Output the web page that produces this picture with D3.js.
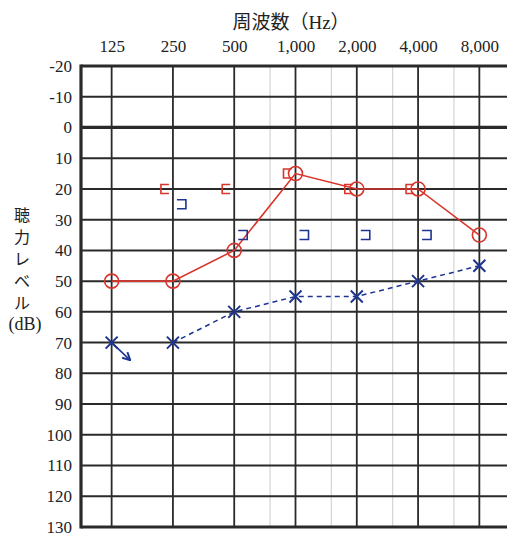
<!DOCTYPE html>
<html><head><meta charset="utf-8">
<script src="https://cdn.jsdelivr.net/npm/d3@7"></script>
<style>body{margin:0;background:#fff}svg{display:block}
.sf{font-family:"Liberation Serif","Times New Roman","DejaVu Serif","Noto Sans CJK JP",serif}</style>
</head><body>
<svg id="c" width="507" height="536"></svg>
<script>
const freqs = [125, 250, 500, 1000, 2000, 4000, 8000];
const freqLabels = ["125", "250", "500", "1,000", "2,000", "4,000", "8,000"];
const halfOctaves = [750, 1500, 3000, 6000];
const dbTicks = [-20, -10, 0, 10, 20, 30, 40, 50, 60, 70, 80, 90, 100, 110, 120, 130];
const rightAir = [50, 50, 40, 15, 20, 20, 35];
const leftAirFreqs = [250, 500, 1000, 2000, 4000, 8000];
const leftAir = [70, 60, 55, 55, 50, 45];
const rightBoneFreqs = [250, 500, 1000, 2000, 4000];
const rightBone = [20, 20, 15, 20, 20];
const leftBoneFreqs = [250, 500, 1000, 2000, 4000];
const leftBone = [25, 35, 35, 35, 35];
const noRespFreqs = [125];
const noResp = [70];
const yLabelChars = ["聴", "力", "レ", "ベ", "ル"];

const RED = "#d8352c", BLUE = "#1d3590", GRID = "#2a2a2a";
const svg = d3.select("#c");
const x = d3.scaleLog().base(2).domain([125 / Math.SQRT2, 8000 * Math.SQRT2]).range([81, 510]);
const y = d3.scaleLinear().domain([-20, 130]).range([66, 527]);

svg.append("g").selectAll("line").data(halfOctaves).join("line")
  .attr("x1", d => x(d)).attr("x2", d => x(d)).attr("y1", y(-20)).attr("y2", y(130))
  .attr("stroke", "#d4d4d4").attr("stroke-width", 1.2);
svg.append("g").selectAll("line").data(freqs).join("line")
  .attr("x1", d => x(d)).attr("x2", d => x(d)).attr("y1", y(-20)).attr("y2", y(130))
  .attr("stroke", GRID).attr("stroke-width", 1.8);
svg.append("g").selectAll("line").data(dbTicks).join("line")
  .attr("x1", 81).attr("x2", 507).attr("y1", d => y(d)).attr("y2", d => y(d))
  .attr("stroke", GRID).attr("stroke-width", d => (d === -20 || d === 0 || d === 130) ? 3.2 : 2);
svg.append("line").attr("x1", 81).attr("x2", 81).attr("y1", y(-20) - 1.5).attr("y2", y(130) + 1.5)
  .attr("stroke", GRID).attr("stroke-width", 3.2);

const yAxis = svg.append("g").attr("transform", "translate(72,0)")
  .call(d3.axisLeft(y).tickValues(dbTicks).tickFormat(d => String(d)).tickSize(0).tickPadding(0));
yAxis.select(".domain").remove();
yAxis.attr("font-family", null).attr("font-size", null);
yAxis.selectAll("text").attr("class", "sf").attr("font-size", 17).attr("fill", "#222");

const xAxis = svg.append("g").attr("transform", "translate(0,52)")
  .call(d3.axisTop(x).tickValues(freqs).tickFormat((d, i) => freqLabels[i]).tickSize(0).tickPadding(0));
xAxis.select(".domain").remove();
xAxis.attr("font-family", null).attr("font-size", null);
xAxis.selectAll("text").attr("class", "sf").attr("font-size", 17).attr("fill", "#222");

svg.append("text").attr("class", "sf").attr("x", 291).attr("y", 29).attr("text-anchor", "middle")
  .attr("font-size", 19).attr("fill", "#222").text("周波数（Hz）");

const yl = svg.append("g").attr("fill", "#222").attr("text-anchor", "middle");
yl.selectAll("text.c").data(yLabelChars).join("text").attr("class", "sf")
  .attr("x", 22).attr("y", (d, i) => 221 + i * 22).attr("font-size", 16).text(d => d);
yl.append("text").attr("class", "sf").attr("x", 25).attr("y", 330).attr("font-size", 18).text("(dB)");

const rIdx = freqs.map((f, i) => i);
svg.append("path").datum(rIdx)
  .attr("d", d3.line().x(i => x(freqs[i])).y(i => y(rightAir[i])))
  .attr("fill", "none").attr("stroke", RED).attr("stroke-width", 1.6);
svg.append("g").selectAll("circle").data(rIdx).join("circle")
  .attr("cx", i => x(freqs[i])).attr("cy", i => y(rightAir[i])).attr("r", 7)
  .attr("fill", "none").attr("stroke", RED).attr("stroke-width", 1.6);

svg.append("g").selectAll("path").data(rightBoneFreqs).join("path")
  .attr("d", (f, i) => {
    const cx = x(f), cy = y(rightBone[i]);
    return `M${cx - 4},${cy - 4.5}H${cx - 12}V${cy + 4.5}H${cx - 4}`;
  })
  .attr("fill", "none").attr("stroke", RED).attr("stroke-width", 1.6);

svg.append("g").selectAll("path").data(leftBoneFreqs).join("path")
  .attr("d", (f, i) => {
    const cx = x(f), cy = y(leftBone[i]);
    return `M${cx + 4},${cy - 4.5}H${cx + 13}V${cy + 4.5}H${cx + 4}`;
  })
  .attr("fill", "none").attr("stroke", BLUE).attr("stroke-width", 1.6);

const lIdx = leftAirFreqs.map((f, i) => i);
svg.append("path").datum(lIdx)
  .attr("d", d3.line().x(i => x(leftAirFreqs[i])).y(i => y(leftAir[i])))
  .attr("fill", "none").attr("stroke", BLUE).attr("stroke-width", 1.5).attr("stroke-dasharray", "5,4");
const xMark = (cx, cy, s) => `M${cx - s},${cy - s}L${cx + s},${cy + s}M${cx - s},${cy + s}L${cx + s},${cy - s}`;
svg.append("g").selectAll("path").data(lIdx).join("path")
  .attr("d", i => xMark(x(leftAirFreqs[i]), y(leftAir[i]), 6))
  .attr("stroke", BLUE).attr("stroke-width", 2);
svg.append("g").selectAll("path").data(noRespFreqs).join("path")
  .attr("d", (f, i) => xMark(x(f), y(noResp[i]), 6))
  .attr("stroke", BLUE).attr("stroke-width", 2);

svg.append("defs").append("marker").attr("id", "ah").attr("viewBox", "0 0 10 10")
  .attr("refX", 8).attr("refY", 5).attr("markerWidth", 6).attr("markerHeight", 6)
  .attr("orient", "auto").append("path").attr("d", "M1,1L9,5L1,9").attr("fill", "none")
  .attr("stroke", BLUE).attr("stroke-width", 2);
svg.append("g").selectAll("line").data(noRespFreqs).join("line")
  .attr("x1", (f, i) => x(f)).attr("y1", (f, i) => y(noResp[i]))
  .attr("x2", (f, i) => x(f) + 18).attr("y2", (f, i) => y(noResp[i]) + 17)
  .attr("stroke", BLUE).attr("stroke-width", 1.6).attr("marker-end", "url(#ah)");
</script>
</body></html>
